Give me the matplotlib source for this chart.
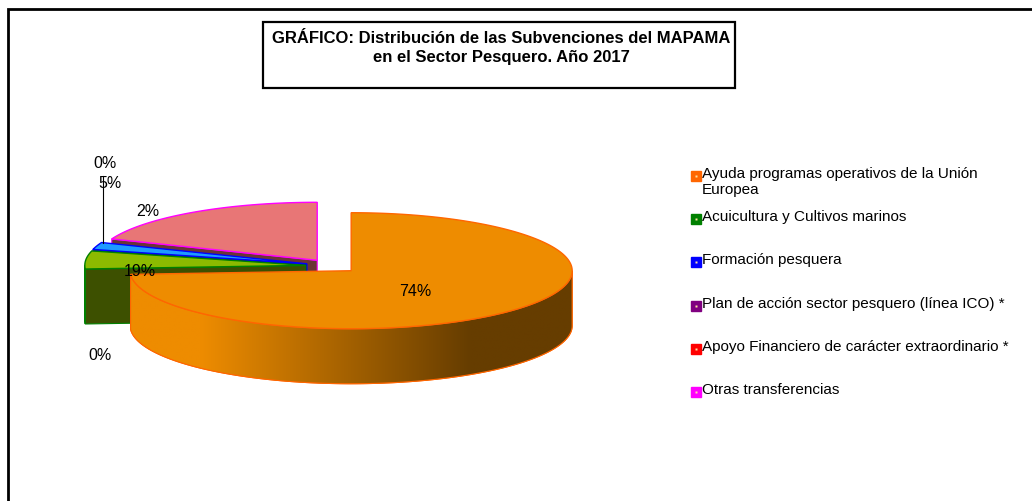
import numpy as np
import matplotlib.pyplot as plt
from matplotlib.patches import Polygon, Rectangle
from matplotlib.colors import to_rgb

plt.rcParams['font.family'] = ['Liberation Sans', 'DejaVu Sans']

# data
categories = ["Ayuda programas operativos de la Unión\nEuropea",
              "Acuicultura y Cultivos marinos",
              "Formación pesquera",
              "Plan de acción sector pesquero (línea ICO) *",
              "Apoyo Financiero de carácter extraordinario *",
              "Otras transferencias"]
values = [74, 5, 2, 0, 0, 19]
pct_labels = ["74%", "19%", "5%", "0%", "0%", "2%"]
legend_colors = ["#FF6600", "#008000", "#0000FF", "#800080", "#FF0000", "#FF00FF"]
top_colors = ["#EE8C00", "#8CBA00", "#1E9BFF", "#800080", "#FF0000", "#E87676"]
side_colors = ["#663D00", "#3D5000", "#00008C", "#400040", "#800000", "#6B3535"]

# layout (pixel space)
cx0, cy0 = 332, 266
rx, ry, depth = 221, 58, 55
explode = 0.119
label_pos = [(415, 292), (140, 271), (110, 183), (105, 164), (100, 356), (148, 212)]

fig = plt.figure(figsize=(10.32, 5.01), dpi=100)
ax = fig.add_axes([0, 0, 1, 1])
ax.set_xlim(0, 1032)
ax.set_ylim(501, 0)
ax.axis('off')


def rim(a, cx, cy, dz=0):
    a = np.radians(a)
    return cx + rx * np.cos(a), cy - ry * np.sin(a) + dz


total = float(sum(values))
cum = np.concatenate([[0], np.cumsum(values)]) / total
z = 2
for i in reversed(range(len(values))):
    if values[i] == 0:
        continue
    a0 = 90 - 360 * cum[i + 1]
    a1 = 90 - 360 * cum[i]
    mid = np.radians((a0 + a1) / 2)
    cx = cx0 + explode * rx * np.cos(mid)
    cy = cy0 - explode * ry * np.sin(mid)
    ec = legend_colors[i]

    # radial faces
    for a, n in [(a0, a0 - 90), (a1, a1 + 90)]:
        if np.sin(np.radians(n)) < 0:
            px, py = rim(a, cx, cy)
            face = [(cx, cy), (px, py), (px, py + depth), (cx, cy + depth)]
            ax.add_patch(Polygon(face, closed=True, fc=side_colors[i], ec=ec,
                                 lw=0.8, zorder=z))
            z += 1

    # curved side (front part only)
    t = np.linspace(a0, a1, 400)
    front = np.sin(np.radians(t)) < 0
    if front.any():
        tt = t[front]
        xs, ys = rim(tt, cx, cy)
        pts = list(zip(xs, ys)) + list(zip(xs[::-1], ys[::-1] + depth))
        side = Polygon(pts, closed=True, fc=side_colors[i], ec=ec, lw=0.8, zorder=z)
        ax.add_patch(side)
        z += 1
        if i == 0:
            # horizontal shading on the orange side
            gx = np.linspace(xs.min(), xs.max(), 300)
            c1 = np.array(to_rgb(top_colors[0]))
            c2 = np.array(to_rgb(side_colors[0]))
            f = np.clip((gx - 200) / 270.0, 0, 1)[:, None]
            grad = (c1 * (1 - f) + c2 * f)[None, :, :]
            im = ax.imshow(grad, extent=[xs.min(), xs.max(), ys.max() + depth, ys.min()],
                           aspect='auto', zorder=z, interpolation='bilinear')
            im.set_clip_path(side)
            z += 1
            ax.add_patch(Polygon(pts, closed=True, fc='none', ec=ec, lw=0.8, zorder=z))
            z += 1

    # top face
    xs, ys = rim(t, cx, cy)
    top = [(cx, cy)] + list(zip(xs, ys))
    ax.add_patch(Polygon(top, closed=True, fc=top_colors[i], ec=ec, lw=1.0, zorder=z))
    z += 1

# data labels
ax.plot([103, 103], [243, 176], color='black', lw=0.8, zorder=z)
for txt, (x, y) in zip(pct_labels, label_pos):
    ax.text(x, y, txt, fontsize=11.5, ha='center', va='center', zorder=z + 1)

# legend
leg_y = [176, 219, 262, 306, 349, 392]
for lab, col, y in zip(categories, legend_colors, leg_y):
    ax.plot(695.5, y, marker='s', ms=7.5, mfc=col, mec=col, zorder=z)
    ax.plot(695.5, y, marker='s', ms=1.5, mfc='#ffe0a0', mec='none', zorder=z + 1)
    ax.text(702, y - 9, lab, fontsize=11, ha='left', va='top', linespacing=1.2)

# title box
ax.add_patch(Rectangle((263, 22), 472, 66, fc='white', ec='black', lw=1.6, zorder=z))
ax.text(501, 38, "GRÁFICO: Distribución de las Subvenciones del MAPAMA",
        fontsize=12, fontweight='bold', ha='center', va='center', zorder=z + 1)
ax.text(501, 57, "en el Sector Pesquero. Año 2017",
        fontsize=12, fontweight='bold', ha='center', va='center', zorder=z + 1)

# outer frame
ax.plot([8, 8, 1040], [510, 9, 9], color='black', lw=2.0, solid_joinstyle='miter',
        zorder=z)

fig.savefig("out.png", dpi=100)
